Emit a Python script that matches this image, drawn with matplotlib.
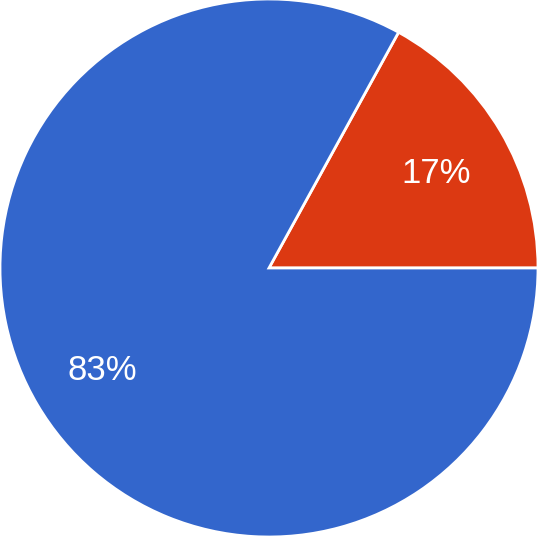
import matplotlib
matplotlib.use("Agg")
import matplotlib.pyplot as plt

labels = ["Yes", "No"]
values = [17, 83]
colors = ["#DC3912", "#3366CC"]

fig = plt.figure(figsize=(5.38, 5.38), dpi=100)
ax = fig.add_axes([0, 0, 1, 1])
wedges, texts, autotexts = ax.pie(
    values, colors=colors, startangle=0, counterclock=True,
    autopct=lambda p: f"{p:.0f}%", pctdistance=0.72, radius=1.0,
    wedgeprops=dict(edgecolor="white", linewidth=2),
    textprops=dict(color="white", fontsize=25, family=["Liberation Sans", "DejaVu Sans"]),
)
for t in autotexts:
    x, y = t.get_position()
    t.set_position((x, y - 0.016))
ax.set_xlim(-1, 1)
ax.set_ylim(-270 / 269, 268 / 269)
ax.set_aspect("equal")
ax.axis("off")
fig.savefig("out.png", dpi=100)
